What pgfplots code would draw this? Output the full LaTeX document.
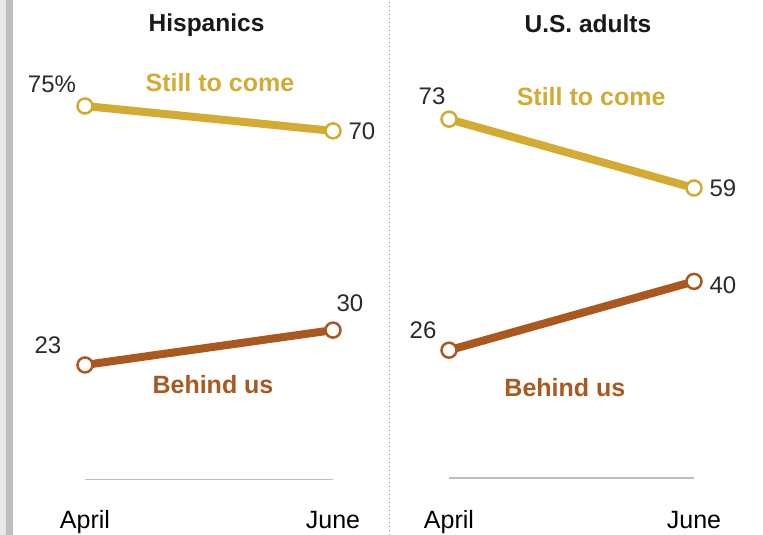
\documentclass[border=0pt]{standalone}
\usepackage{pgfplots}
\pgfplotsset{compat=1.18}
\usepackage{fontspec}
\setmainfont{Liberation Sans}
\definecolor{gold}{HTML}{D3AB33}
\definecolor{rust}{HTML}{A9581F}
\definecolor{numtxt}{HTML}{2B2B2B}
\definecolor{baseln}{HTML}{BDBDBD}

\pgfplotsset{
  panel/.style={
    xmin=0, xmax=1, ymin=0, ymax=96,
    axis x line=bottom, axis y line=none,
    axis line style={baseln, line width=1.3pt, -},
    xtick={0,1}, xticklabels={April,June},
    major tick length=0pt,
    xticklabel style={font=\fontsize{25}{25}\selectfont, text=black, anchor=base, yshift=#1},
    ytick=\empty,
    clip=false,
    anchor=origin,
  },
  trend/.style={line width=8pt, mark=*, mark size=7.5pt,
    mark options={fill=white, draw=#1, line width=2.5pt}, color=#1},
}
\newcommand{\num}{\fontsize{24}{24}\selectfont\color{numtxt}}
\newcommand{\lab}{\fontsize{25}{25}\selectfont\bfseries}
\newcommand{\ttl}{\fontsize{24.5}{24.5}\selectfont\bfseries\color{black!90}}

\begin{document}
\begin{tikzpicture}
\useasboundingbox (0pt,0pt) rectangle (763pt,535pt);
\fill[white] (0pt,0pt) rectangle (763pt,535pt);
\fill[black!9] (0pt,0pt) rectangle (6pt,535pt);
\fill[black!25] (6pt,0pt) rectangle (13pt,535pt);
\draw[black!45, line width=1pt, dash pattern=on 1pt off 3pt] (389pt,0pt) -- (389pt,535pt);

% Hispanics
\begin{axis}[panel=-49pt, at={(85pt,55.5pt)}, x=248pt, y=4.98pt]
  \addplot[trend=gold] coordinates {(0,75) (1,70)};
  \addplot[trend=rust] coordinates {(0,23) (1,30)};
  \node[font=\num] at (axis cs:0,75) [xshift=-33pt, yshift=22pt] {75\%};
  \node[font=\num, anchor=west] at (axis cs:1,70) [xshift=12pt] {70};
  \node[font=\num] at (axis cs:0,23) [xshift=-37pt, yshift=20pt] {23};
  \node[font=\num] at (axis cs:1,30) [xshift=17pt, yshift=27pt] {30};
  \node[font=\lab, text=gold] at (axis cs:0.544,79.8) {Still to come};
  \node[font=\lab, text=rust] at (axis cs:0.516,19.0) {Behind us};
  \node[font=\ttl] at (axis cs:0.49,91.2) {Hispanics};
\end{axis}

% U.S. adults
\begin{axis}[panel=-50.5pt, at={(449pt,57pt)}, x=245pt, y=4.915pt]
  \addplot[trend=gold] coordinates {(0,73) (1,59)};
  \addplot[trend=rust] coordinates {(0,26) (1,40)};
  \node[font=\num] at (axis cs:0,73) [xshift=-17pt, yshift=23pt] {73};
  \node[font=\num, anchor=west] at (axis cs:1,59) [xshift=12pt] {59};
  \node[font=\num] at (axis cs:0,26) [xshift=-26pt, yshift=20pt] {26};
  \node[font=\num, anchor=west] at (axis cs:1,40) [xshift=12pt, yshift=-4pt] {40};
  \node[font=\lab, text=gold] at (axis cs:0.58,77.7) {Still to come};
  \node[font=\lab, text=rust] at (axis cs:0.473,18.5) {Behind us};
  \node[font=\ttl] at (axis cs:0.567,92.4) {U.S. adults};
\end{axis}
\end{tikzpicture}
\end{document}
